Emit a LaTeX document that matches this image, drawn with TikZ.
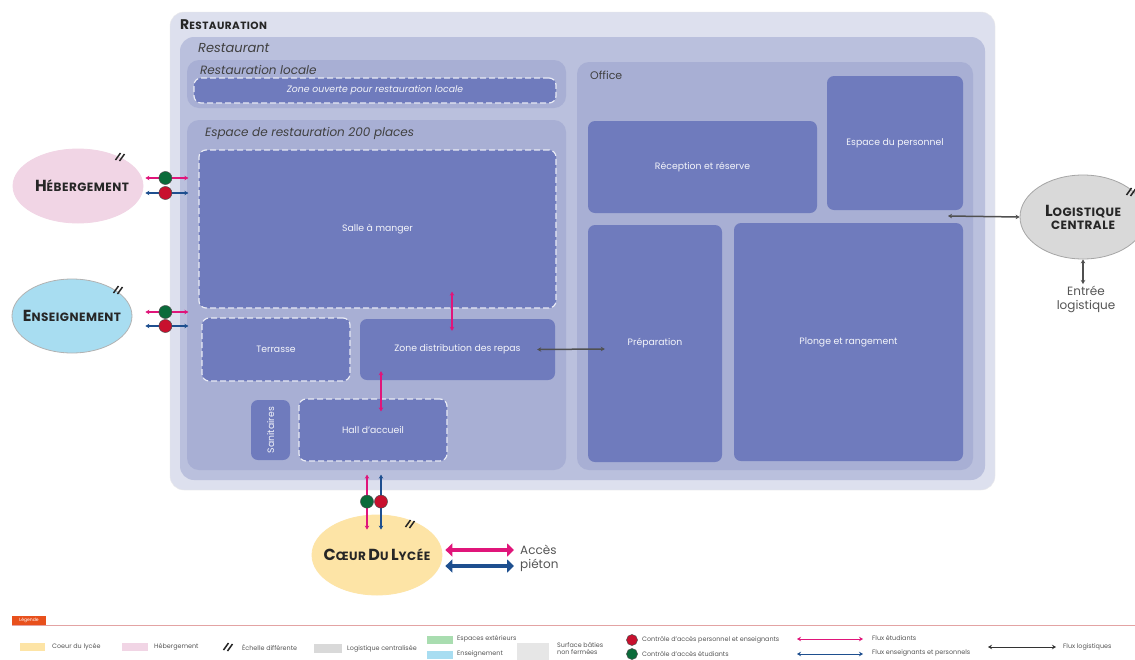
\documentclass[tikz,border=0pt]{standalone}
\usepackage{fontspec}
\setmainfont{Poppins}
\usetikzlibrary{shapes.geometric,calc,arrows.meta}

\definecolor{outerbg}{HTML}{DDE0EE}
\definecolor{restbg}{HTML}{BAC0DD}
\definecolor{zonebg}{HTML}{A8AFD4}
\definecolor{roombg}{HTML}{6F7BBD}
\definecolor{flowpink}{HTML}{E0157A}
\definecolor{flowblue}{HTML}{1E4F8F}
\definecolor{flowgrey}{HTML}{505050}
\definecolor{ctrlred}{HTML}{C8102E}
\definecolor{ctrlgreen}{HTML}{0B6B3A}
\definecolor{heartc}{HTML}{FDE4A6}
\definecolor{lodging}{HTML}{F1D5E5}
\definecolor{teach}{HTML}{A8DDF1}
\definecolor{logist}{HTML}{D9D9D9}
\definecolor{outdoor}{HTML}{A9DDB0}
\definecolor{opensurf}{HTML}{E6E6E6}
\definecolor{tagorange}{HTML}{E8501C}
\definecolor{legline}{HTML}{E3A3A3}
\definecolor{txtgrey}{HTML}{555555}

% fake small capitals: big initial, smaller rest, slightly spaced
\newfontfamily\capfont[LetterSpace=4]{Poppins}
\newcommand{\capsA}[1]{{\fontsize{16}{16}\selectfont #1}}
\newcommand{\capsB}[1]{{\fontsize{12}{14}\selectfont #1}}

\tikzset{
  x=1pt, y=-1pt,
  zonebox/.style={fill=zonebg, rounded corners=12pt},
  room/.style={fill=roombg, rounded corners=7pt, text=white!92!roombg,
    font=\fontsize{9.3}{11}\selectfont, align=center, inner sep=0pt},
  openroom/.style={room, draw=white!85!roombg, line width=1.2pt,
    dash pattern=on 6pt off 3pt},
  zonelabel/.style={anchor=west, inner sep=0pt, text=black!75,
    font=\fontsize{12}{14}\selectfont\itshape},
  pinkflow/.style={draw=flowpink, line width=1.5pt,
    {Stealth[length=4pt,width=4.5pt]}-{Stealth[length=4pt,width=4.5pt]}},
  blueflow/.style={draw=flowblue, line width=1.5pt,
    {Stealth[length=4pt,width=4.5pt]}-{Stealth[length=4pt,width=4.5pt]}},
  greyflow/.style={draw=flowgrey, line width=1.5pt,
    {Stealth[length=4pt,width=4.5pt]}-{Stealth[length=4pt,width=4.5pt]}},
  bigpink/.style={draw=flowpink, line width=4.5pt,
    {Triangle[length=7pt,width=13pt]}-{Triangle[length=7pt,width=13pt]}},
  bigblue/.style={draw=flowblue, line width=4.5pt,
    {Triangle[length=7pt,width=13pt]}-{Triangle[length=7pt,width=13pt]}},
  pole/.style={ellipse, draw=black!25, line width=0.8pt, inner sep=0pt},
  poletext/.style={inner sep=0pt, align=center, text=black!85, font=\capfont\bfseries},
  ctrlgreenc/.style={circle, fill=ctrlgreen, draw=black!70, line width=0.5pt,
    inner sep=0pt, minimum size=13pt},
  ctrlredc/.style={circle, fill=ctrlred, draw=black!70, line width=0.5pt,
    inner sep=0pt, minimum size=13pt},
  legtext/.style={anchor=west, inner sep=0pt, text=txtgrey,
    font=\fontsize{6.4}{7}\selectfont, align=left},
  scalemark/.pic={
    \draw[line width=1.5pt, black!85] (-4.5,3) -- (0.5,-4);
    \draw[line width=1.5pt, black!85] (-0.5,4) -- (4.5,-3);
  },
}

\begin{document}
\begin{tikzpicture}
\useasboundingbox (0,0) rectangle (1135,659);
\fill[white] (0,0) rectangle (1135,659);

% ---------- Restauration ----------
\filldraw[fill=outerbg, draw=black!8, rounded corners=14pt] (170,12) rectangle (995,490);
\node[anchor=west, inner sep=0pt, text=black!85, font=\capfont\bfseries] (titre) at (180,25)
  {{\fontsize{14}{14}\selectfont R}{\fontsize{10.5}{11}\selectfont ESTAURATION}};

\fill[restbg, rounded corners=14pt] (180,37) rectangle (985,480);
\node[zonelabel, font=\fontsize{13}{15}\selectfont\itshape] (restaurant) at (198,48) {Restaurant};

% Restauration locale
\fill[zonebox] (187,60) rectangle (566,108);
\node[zonelabel] (locale) at (200,70) {Restauration locale};
\node[openroom, minimum width=362pt, minimum height=25pt,
  font=\fontsize{9.3}{11}\selectfont\itshape] (zoneloc) at (375,90.5)
  {Zone ouverte pour restauration locale};

% Espace de restauration 200 places
\fill[zonebox] (187,120) rectangle (566,470);
\node[zonelabel] (espace) at (205,133) {Espace de restauration 200 places};
\node[openroom, minimum width=357pt, minimum height=158pt] (salle) at (377.5,229) {Salle à manger};
\node[openroom, minimum width=148pt, minimum height=63pt] (terrasse) at (276,349.5) {Terrasse};
\node[room, minimum width=195pt, minimum height=61pt] (distrib) at (457.5,349.5) {Zone distribution des repas};
\node[room, minimum width=39pt, minimum height=60pt] (sanit) at (270.5,430) {\rotatebox{90}{Sanitaires}};
\node[openroom, minimum width=148pt, minimum height=62pt] (hall) at (373,430) {Hall d’accueil};

% Office
\fill[zonebox] (577,62) rectangle (973,470);
\node[zonelabel, font=\fontsize{11}{13}\selectfont] (office) at (590,75) {Office};
\node[room, minimum width=229pt, minimum height=92pt] (recep) at (702.5,167) {Réception et réserve};
\node[room, minimum width=136pt, minimum height=134pt] (perso) at (895,143) {Espace du personnel};
\node[room, minimum width=134pt, minimum height=237pt] (prep) at (655,343.5) {Préparation};
\node[room, minimum width=229pt, minimum height=238pt] (plonge) at (848.5,342) {Plonge et rangement};

% internal flows
\draw[pinkflow] ([xshift=74.5pt,yshift=17pt]salle.south) -- ([xshift=-5.5pt,yshift=-12pt]distrib.north);
\draw[pinkflow] ([xshift=-76.5pt,yshift=9pt]distrib.south) -- ([xshift=8pt,yshift=-13pt]hall.north);
\draw[greyflow] ([xshift=-18pt]distrib.east) -- ([xshift=17pt,yshift=-5.5pt]prep.west);

% ---------- Logistique centrale ----------
\node[pole, fill=logist, draw=black!35, minimum width=126pt, minimum height=84pt] (logi) at (1083,217) {};
\node[poletext] (logitxt) at (logi.center)
  {\capsA{L}\capsB{OGISTIQUE}\\[1pt]\capsB{CENTRALE}};
\pic at (1131,192) {scalemark};
\coordinate (officegate) at (948,216);
\draw[greyflow] (logi.west) -- (officegate);
\coordinate (entree) at (1083,284);
\draw[greyflow] (logi.south) -- (entree);
\node[anchor=north, inner sep=0pt, text=txtgrey, align=center,
  font=\fontsize{12}{14}\selectfont] (entreetxt) at (1086,286) {Entrée\\logistique};

% ---------- Hébergement ----------
\node[pole, fill=lodging, draw=lodging, minimum width=130pt, minimum height=74pt] (heb) at (78,186) {};
\node[poletext] (hebtxt) at ([xshift=4pt]heb.center) {\capsA{H}\capsB{ÉBERGEMENT}};
\pic at (120,157) {scalemark};
\draw[pinkflow] ($(heb.east)+(2,-8)$) -- ($(heb.east)+(45,-8)$);
\draw[blueflow] ($(heb.east)+(2,7)$) -- ($(heb.east)+(45,7)$);
\node[ctrlgreenc] (hebg) at ($(heb.east)+(22,-8)$) {};
\node[ctrlredc] (hebr) at ($(heb.east)+(22,7)$) {};

% ---------- Enseignement ----------
\node[pole, fill=teach, draw=black!30, minimum width=120pt, minimum height=74pt] (ens) at (72,316) {};
\node[poletext] (enstxt) at (ens.center) {\capsA{E}\capsB{NSEIGNEMENT}};
\pic at (118,290) {scalemark};
\draw[pinkflow] ($(ens.east)+(13,-4)$) -- ($(ens.east)+(56,-4)$);
\draw[blueflow] ($(ens.east)+(13,10)$) -- ($(ens.east)+(56,10)$);
\node[ctrlgreenc] (ensg) at ($(ens.east)+(33,-4)$) {};
\node[ctrlredc] (ensr) at ($(ens.east)+(33,10)$) {};

% ---------- Coeur du lycée ----------
\node[pole, fill=heartc, draw=heartc, minimum width=130pt, minimum height=80pt] (coeur) at (377,555) {};
\node[poletext] (coeurtxt) at (coeur.center)
  {\capsA{C}\capsB{ŒUR} \capsA{D}\capsB{U} \capsA{L}\capsB{YCÉE}};
\pic at (410,524) {scalemark};
\draw[pinkflow] ([xshift=-10pt,yshift=40pt]coeur.north) -- ([xshift=-10pt,yshift=-15pt]coeur.north);
\draw[blueflow] ([xshift=4pt,yshift=40pt]coeur.north) -- ([xshift=4pt,yshift=-15pt]coeur.north);
\node[ctrlgreenc] (coeurg) at ([xshift=-10pt,yshift=13pt]coeur.north) {};
\node[ctrlredc] (coeurr) at ([xshift=4pt,yshift=13pt]coeur.north) {};
\coordinate (pietonA) at (514,550);
\coordinate (pietonB) at (514,566);
\draw[bigpink] ($(coeur.east)+(3,-5)$) -- (pietonA);
\draw[bigblue] ($(coeur.east)+(3,11)$) -- (pietonB);
\node[anchor=west, inner sep=0pt, text=txtgrey, align=left,
  font=\fontsize{12}{14}\selectfont] (pieton) at (520,558) {Accès\\piéton};

% ---------- Légende ----------
\draw[legline, line width=1pt] (12,625) -- (1135,625);
\node[fill=tagorange, text=white, inner sep=0pt, minimum width=34pt, minimum height=9pt,
  font=\fontsize{4.5}{5}\selectfont] (tag) at (29,620) {Légende};

\fill[heartc] (20,643) rectangle (45,651);
\node[legtext] (lg1) at (52,647) {Coeur du lycée};
\fill[lodging] (122,643) rectangle (148,651);
\node[legtext] (lg2) at (154,647) {Hébergement};
\pic at (228,647) {scalemark};
\node[legtext] (lg3) at (242,648) {Échelle différente};
\fill[logist] (314,644) rectangle (342,653);
\node[legtext] (lg4) at (347,649) {Logistique centralisée};
\fill[outdoor] (427,636) rectangle (453,644);
\node[legtext] (lg5) at (457,639) {Espaces extérieurs};
\fill[teach] (427,651) rectangle (453,659);
\node[legtext] (lg6) at (457,654) {Enseignement};
\fill[opensurf] (517,643) rectangle (549,660);
\node[legtext] (lg7) at (557,649) {Surface bâties\\non fermées};
\node[ctrlredc, minimum size=11pt] (lgr) at (632,640) {};
\node[legtext] (lg8) at (642,640) {Contrôle d’accès personnel et enseignants};
\node[ctrlgreenc, minimum size=11pt] (lgg) at (632,654) {};
\node[legtext] (lg9) at (642,654) {Contrôle d’accès étudiants};
\coordinate (lgpa) at (797,639); \coordinate (lgpb) at (863,639);
\draw[pinkflow, line width=1pt] (lgpa) -- (lgpb);
\node[legtext] (lg10) at (872,638) {Flux étudiants};
\coordinate (lgba) at (797,654); \coordinate (lgbb) at (863,654);
\draw[blueflow, line width=1pt] (lgba) -- (lgbb);
\node[legtext] (lg11) at (872,653) {Flux enseignants et personnels};
\coordinate (lgga) at (988,647); \coordinate (lggb) at (1056,647);
\draw[greyflow, draw=black!80, line width=1pt] (lgga) -- (lggb);
\node[legtext] (lg12) at (1063,647) {Flux logistiques};
\end{tikzpicture}
\end{document}
